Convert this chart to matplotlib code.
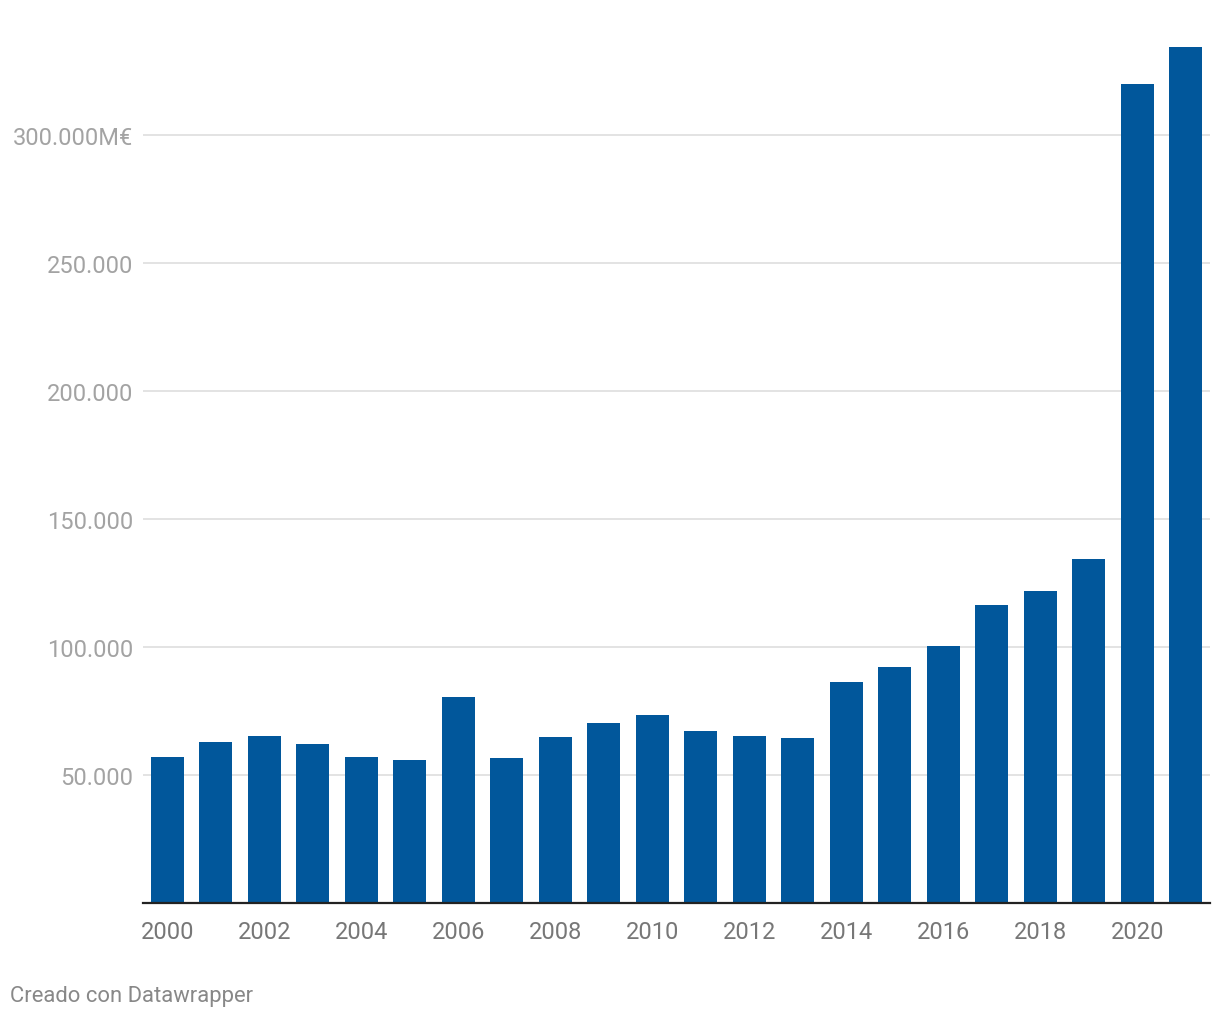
import matplotlib.pyplot as plt
from matplotlib.ticker import FixedLocator

plt.rcParams['font.family'] = ['Roboto', 'DejaVu Sans']

# gasto anual, millones de euros
years = list(range(2000, 2022))
values = [56.9, 63.1, 65.1, 62.3, 57.2, 55.7, 80.3, 56.5, 64.7, 70.5, 73.3,
          67.4, 65.1, 64.3, 86.5, 92.4, 100.6, 116.6, 122.1, 134.6, 320.2, 334.3]
values = [v * 1000 for v in values]

ytick_vals = [50000, 100000, 150000, 200000, 250000, 300000]
ytick_labels = ['50.000', '100.000', '150.000', '200.000', '250.000', '300.000M€']
xtick_years = list(range(2000, 2021, 2))

fig = plt.figure(figsize=(12.2, 10.2), dpi=100)
ax = fig.add_axes([143 / 1220, 116 / 1020, 1067 / 1220, 864 / 1020])

x = [y - 2000 for y in years]
ax.bar(x, values, width=0.68, color='#01579b', zorder=3)

ax.set_xlim(-0.5, 21.5)
ax.set_ylim(0, 337600)

ax.yaxis.set_major_locator(FixedLocator(ytick_vals))
ax.set_yticklabels(ytick_labels)
ax.set_xticks([y - 2000 for y in xtick_years])
ax.set_xticklabels([str(y) for y in xtick_years])

ax.grid(axis='y', color='#e3e3e3', linewidth=1.4, zorder=0)
ax.tick_params(axis='y', length=0, pad=7, labelsize=17, labelcolor='#a3a3a3')
ax.tick_params(axis='x', length=0, pad=12, labelsize=17, labelcolor='#777777')

for side in ['top', 'right', 'left']:
    ax.spines[side].set_visible(False)
ax.spines['bottom'].set_color('#222222')
ax.spines['bottom'].set_linewidth(1.6)
ax.spines['bottom'].set_zorder(4)

fig.text(10 / 1220, 1 - 997 / 1020, 'Creado con Datawrapper', fontsize=15.8,
         color='#888888', va='center', ha='left')

fig.savefig('out.png', dpi=100)
